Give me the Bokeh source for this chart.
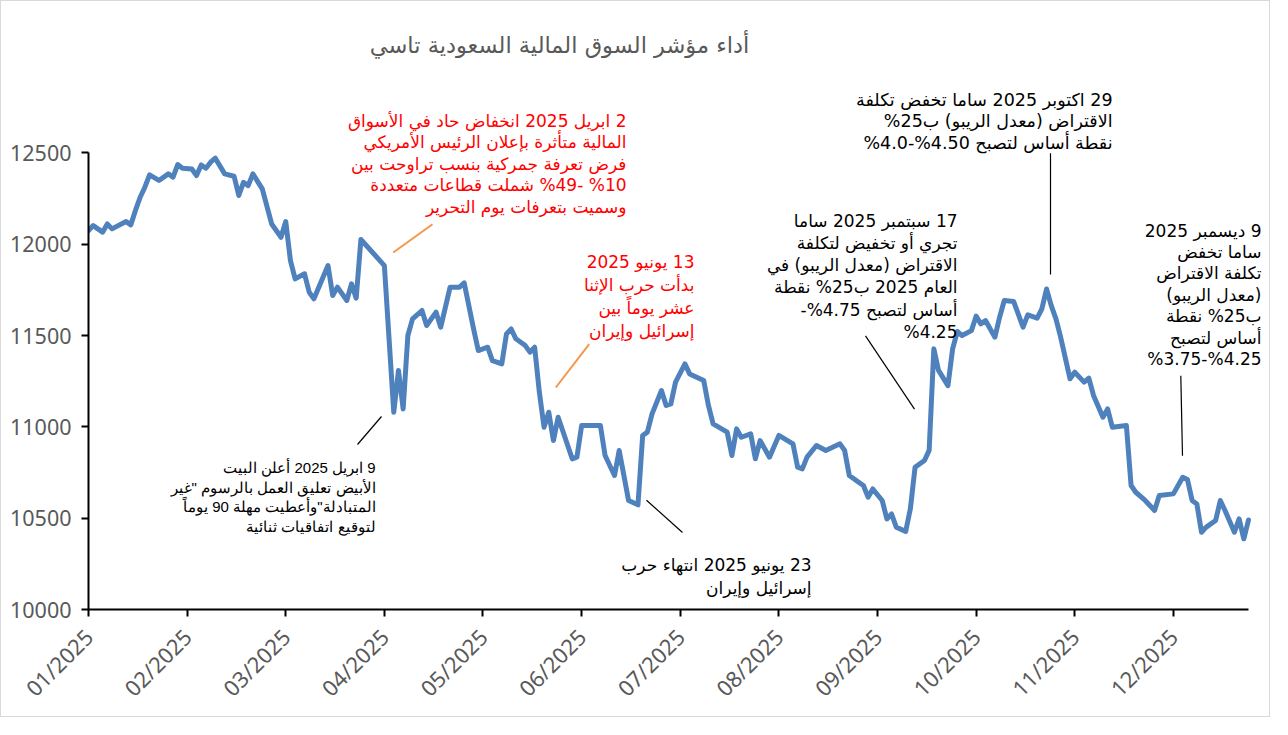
import math
from bokeh.plotting import figure
from bokeh.models import FixedTicker, Label, Range1d, NumeralTickFormatter
from bokeh.embed import file_html
from bokeh.resources import INLINE

# ---------------- data ----------------
month_labels = ["01/2025", "02/2025", "03/2025", "04/2025", "05/2025", "06/2025",
                "07/2025", "08/2025", "09/2025", "10/2025", "11/2025", "12/2025"]
month_start_day = [0, 21, 42, 63, 84, 105, 126, 147, 168, 189, 210, 231]

trading_day = [0, 1, 3, 4, 5, 8, 9, 10, 11, 12, 13, 15, 17, 18, 19, 20, 22, 23, 24, 25,
               26, 27, 29, 31, 32, 33, 34, 35, 37, 39, 41, 42, 43, 44, 46, 47, 48, 51, 52, 53,
               55, 56, 57, 58, 63, 65, 66, 67, 68, 69, 71, 72, 74, 75, 77, 79, 80, 82, 83, 85,
               86, 88, 89, 90, 91, 93, 94, 95, 96, 97, 98, 99, 100, 103, 104, 105, 109, 110, 112, 113,
               114, 115, 117, 118, 119, 120, 122, 123, 124, 125, 127, 128, 131, 132, 133, 136, 137, 138, 139, 141,
               142, 143, 145, 147, 150, 151, 152, 153, 155, 157, 160, 161, 162, 164, 165, 166, 167, 169, 170, 171,
               172, 174, 175, 176, 178, 179, 180, 181, 183, 184, 185, 186, 188, 189, 190, 191, 193, 194, 195, 197,
               199, 200, 202, 203, 204, 205, 206, 207, 209, 210, 212, 213, 214, 216, 217, 218, 221, 222, 223, 225,
               227, 228, 231, 233, 234, 235, 236, 237, 238, 240, 241, 242, 244, 245, 246, 247]
tasi_close = [12075, 12102, 12066, 12111, 12084, 12124, 12106, 12185, 12257, 12312, 12380, 12349, 12385, 12367, 12436, 12416, 12412, 12376, 12434, 12416,
              12449, 12471, 12385, 12372, 12267, 12339, 12321, 12385, 12303, 12111, 12038, 12124, 11910, 11810, 11838, 11737, 11701, 11883, 11719, 11765,
              11692, 11783, 11705, 12026, 11883, 11080, 11309, 11098, 11500, 11591, 11637, 11555, 11628, 11546, 11765, 11765, 11788, 11536, 11418, 11436,
              11363, 11345, 11509, 11536, 11482, 11445, 11409, 11436, 11190, 10998, 11080, 10925, 11053, 10825, 10834, 11007, 11007, 10843, 10734, 10871,
              10734, 10597, 10573, 10953, 10971, 11071, 11199, 11117, 11126, 11245, 11345, 11290, 11254, 11117, 11016, 10971, 10843, 10989, 10943, 10962,
              10825, 10925, 10834, 10953, 10907, 10779, 10770, 10834, 10898, 10871, 10907, 10871, 10734, 10697, 10679, 10615, 10660, 10597, 10496, 10523,
              10451, 10427, 10551, 10779, 10816, 10871, 11427, 11309, 11226, 11427, 11522, 11500, 11527, 11606, 11564, 11582, 11491, 11600, 11692, 11686,
              11546, 11613, 11595, 11646, 11755, 11664, 11591, 11491, 11263, 11299, 11245, 11267, 11172, 11053, 11098, 10998, 11007, 10679, 10642, 10597,
              10542, 10624, 10633, 10724, 10712, 10597, 10578, 10423, 10451, 10487, 10597, 10542, 10423, 10496, 10387, 10490]

y_ticks = [10000, 10500, 11000, 11500, 12000, 12500]

title_text = "أداء مؤشر السوق المالية السعودية تاسي"

note_tariffs = ["2 ابريل 2025 انخفاض حاد في الأسواق",
                "المالية متأثرة بإعلان الرئيس الأمريكي",
                "فرض تعرفة جمركية بنسب تراوحت بين",
                "10% -49% شملت قطاعات متعددة",
                "وسميت بتعرفات يوم التحرير"]
note_war_start = ["13 يونيو 2025",
                  "بدأت حرب الإثنا",
                  "عشر يوماً بين",
                  "إسرائيل وإيران"]
note_pause = ["9 ابريل 2025 أعلن البيت",
              "الأبيض تعليق العمل بالرسوم \"غير",
              "المتبادلة\"وأعطيت مهلة 90 يوماً",
              "لتوقيع اتفاقيات ثنائية"]
note_war_end = ["23 يونيو 2025 انتهاء حرب",
                "إسرائيل وإيران"]
note_sep = ["17 سبتمبر 2025 ساما",
            "تجري أو تخفيض لتكلفة",
            "الاقتراض (معدل الريبو) في",
            "العام 2025 ب25% نقطة",
            "أساس لتصبح 4.75%-",
            "4.25%"]
note_oct = ["29 اكتوبر 2025 ساما تخفض تكلفة",
            "الاقتراض (معدل الريبو) ب25%",
            "نقطة أساس لتصبح 4.50%-4.0%"]
note_dec = ["9 ديسمبر 2025",
            "ساما تخفض",
            "تكلفة الاقتراض",
            "(معدل الريبو)",
            "ب25% نقطة",
            "أساس لتصبح",
            "4.25%-3.75%"]

# ---------------- layout ----------------
W, H = 1270, 717
BORDER_L, BORDER_B = 87, 109
PAGE_OFF = 9                      # 8px page margin + 1px border
PX_L, PX_R = 96.0, 1256.0         # page x of first / last trading day
PY_B, PY_T = 617.0, 160.4         # page y of 10000 / 12500
X_PER_PX = (247 - 0) / (PX_R - PX_L)
Y_PER_PX = 2500 / (PY_B - PY_T)
x_end = (PAGE_OFF + W - PX_L) * X_PER_PX
y_end = 10000 + (PY_B - PAGE_OFF) * Y_PER_PX

p = figure(width=W, height=H, output_backend="svg", toolbar_location=None,
           x_range=Range1d(0, x_end), y_range=Range1d(10000, y_end),
           min_border_left=BORDER_L, min_border_right=0, min_border_top=0,
           min_border_bottom=BORDER_B,
           background_fill_color="white", border_fill_color="white")
p.styles = {"border": "1px solid #d9d9d9"}
p.outline_line_color = None
p.xgrid.visible = False
p.ygrid.visible = False

def dx(px):
    return (px - PX_L) * X_PER_PX
def dy(py):
    return 10000 + (PY_B - py) * Y_PER_PX

p.line(trading_day, tasi_close, line_color="#4F81BD", line_width=5,
       line_join="round", line_cap="round")

for ax in (p.xaxis[0], p.yaxis[0]):
    ax.axis_line_color = "black"
    ax.axis_line_width = 2
    ax.major_tick_line_color = "black"
    ax.major_tick_line_width = 2
    ax.major_tick_out = 7
    ax.major_tick_in = 0
    ax.minor_tick_line_color = None
    ax.major_label_text_color = "#595959"
    ax.major_label_text_font = "Noto Sans"

p.yaxis.ticker = FixedTicker(ticks=y_ticks)
p.yaxis.bounds = (10000, 12500)
p.yaxis.formatter = NumeralTickFormatter(format="0")
p.yaxis.major_label_text_font_size = "21.5px"
p.yaxis.major_label_standoff = 10

p.xaxis.ticker = FixedTicker(ticks=month_start_day)
p.xaxis.bounds = (0, 247)
p.xaxis.major_label_overrides = {d: m for d, m in zip(month_start_day, month_labels)}
p.xaxis.major_label_orientation = math.pi / 4
p.xaxis.major_label_text_font_size = "22px"
p.xaxis.major_label_standoff = 16

ALM, RLM = "\u061c", "\u200f"

def add_note(lines, right_px, base_px, spacing, size, color, font="DejaVu Sans"):
    for i, ln in enumerate(lines):
        p.add_layout(Label(x=dx(right_px), y=dy(base_px + i * spacing), text=ALM + ln + RLM,
                           text_align="right", text_baseline="alphabetic",
                           text_font=font, text_font_size=f"{size}px", text_color=color))

p.add_layout(Label(x=dx(567), y=dy(52), text=title_text, text_align="center",
                   text_baseline="alphabetic", text_font="DejaVu Sans",
                   text_font_size="22.5px", text_color="#595959"))

add_note(note_tariffs, 634, 128, 21.5, 17, "#FF0000")
add_note(note_war_start, 702, 269, 23, 17, "#FF0000")
add_note(note_pause, 383, 475, 19.5, 15, "black", "Liberation Sans")
add_note(note_war_end, 819, 572, 23, 17, "black")
add_note(note_sep, 965, 228, 22.3, 17, "black")
add_note(note_oct, 1120, 107, 21.7, 17.5, "black")
add_note(note_dec, 1269, 238, 21.4, 17, "black")

# leader lines
p.segment(x0=[dx(440), dx(596.7)], y0=[dy(231.7), dy(351.7)],
          x1=[dx(400.7), dx(563.3)], y1=[dy(260), dy(395)],
          line_color="#F79646", line_width=2)
p.segment(x0=[dx(389), dx(654), dx(873), dx(1058), dx(1188.3)],
          y0=[dy(424), dy(507.7), dy(343.3), dy(160.7), dy(383.3)],
          x1=[dx(365), dx(690), dx(922), dx(1058), dx(1190)],
          y1=[dy(452), dy(540), dy(416.7), dy(282), dy(463.3)],
          line_color="black", line_width=1.2)

open("out.html", "w").write(file_html(p, INLINE))
